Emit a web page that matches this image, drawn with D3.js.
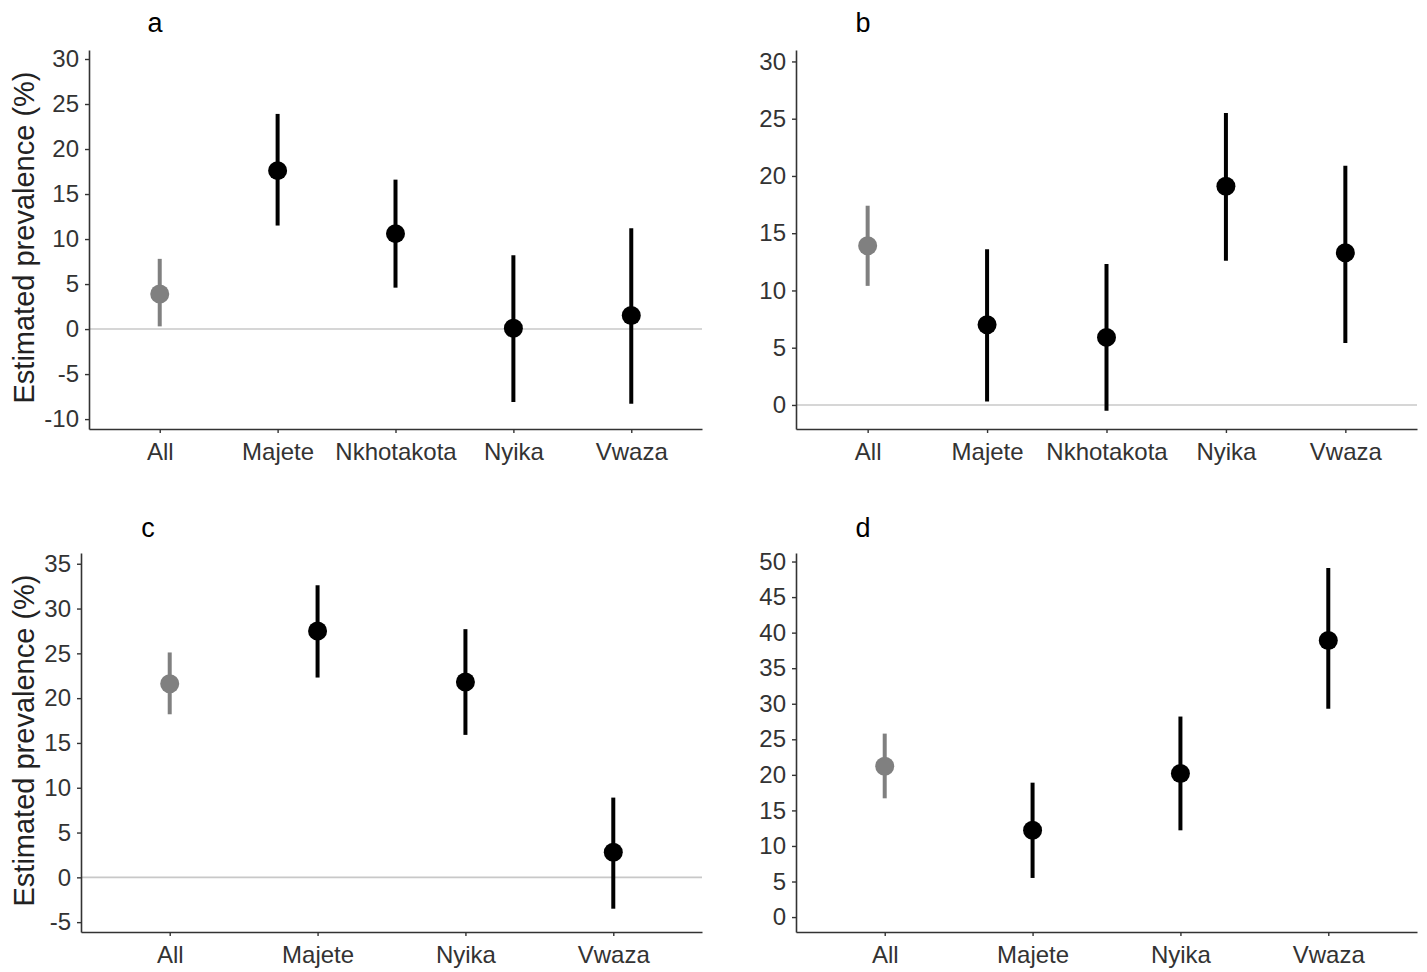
<!DOCTYPE html>
<html>
<head>
<meta charset="utf-8">
<script src="https://cdn.jsdelivr.net/npm/d3@7"></script>
<style>
  body { margin: 0; background: #fff; }
  svg { display: block; font-family: "Liberation Sans", Arial, sans-serif; }
</style>
</head>
<body>
<div id="chart"></div>
<script>
// categories
const catsAB = ["All", "Majete", "Nkhotakota", "Nyika", "Vwaza"];
const catsCD = ["All", "Majete", "Nyika", "Vwaza"];

// panel a
const estA = [3.9, 17.6, 10.6, 0.1, 1.5];
const loA  = [0.3, 11.5, 4.6, -8.1, -8.3];
const hiA  = [7.8, 23.9, 16.6, 8.2, 11.2];
const ticksA = [-10, -5, 0, 5, 10, 15, 20, 25, 30];

// panel b
const estB = [13.9, 7.0, 5.9, 19.1, 13.3];
const loB  = [10.4, 0.3, -0.5, 12.6, 5.4];
const hiB  = [17.4, 13.6, 12.3, 25.5, 20.9];
const ticksB = [0, 5, 10, 15, 20, 25, 30];

// panel c
const estC = [21.6, 27.5, 21.8, 2.8];
const loC  = [18.2, 22.3, 15.9, -3.5];
const hiC  = [25.1, 32.6, 27.7, 8.9];
const ticksC = [-5, 0, 5, 10, 15, 20, 25, 30, 35];

// panel d
const estD = [21.2, 12.2, 20.2, 38.9];
const loD  = [16.7, 5.5, 12.2, 29.3];
const hiD  = [25.8, 18.9, 28.2, 49.1];
const ticksD = [0, 5, 10, 15, 20, 25, 30, 35, 40, 45, 50];

const yTitle = "Estimated prevalence (%)";

const width = 1427, height = 972;
const svg = d3.select("#chart").append("svg")
    .attr("width", width).attr("height", height);

const panels = [
  { tag: "a", cats: catsAB, est: estA, lo: loA, hi: hiA, ticks: ticksA, domain: [-11.1, 31.0], zero: true,
    left: 89, right: 702, top: 50, bottom: 429, tagX: 155, tagY: 32, title: true },
  { tag: "b", cats: catsAB, est: estB, lo: loB, hi: hiB, ticks: ticksB, domain: [-2.1, 31.0], zero: true,
    left: 796, right: 1417, top: 50, bottom: 429, tagX: 863, tagY: 32, title: false },
  { tag: "c", cats: catsCD, est: estC, lo: loC, hi: hiC, ticks: ticksC, domain: [-6.1, 36.2], zero: true,
    left: 81, right: 702, top: 553, bottom: 932, tagX: 148, tagY: 537, title: true },
  { tag: "d", cats: catsCD, est: estD, lo: loD, hi: hiD, ticks: ticksD, domain: [-2.1, 51.2], zero: false,
    left: 796, right: 1417, top: 553, bottom: 932, tagX: 863, tagY: 537, title: false }
];

panels.forEach(drawPanel);

function drawPanel(p) {
    const g = svg.append("g");
    const x = d3.scalePoint().domain(p.cats).range([p.left, p.right]).padding(0.6);
    const y = d3.scaleLinear().domain(p.domain).range([p.bottom, p.top]);

    const rows = p.cats.map((c, i) => ({ cat: c, est: p.est[i], lo: p.lo[i], hi: p.hi[i], all: i === 0 }));

    // reference line at zero
    if (p.zero) {
        g.append("line")
            .attr("x1", p.left).attr("x2", p.right)
            .attr("y1", y(0)).attr("y2", y(0))
            .attr("stroke", "#c8c8c8").attr("stroke-width", 1.6);
    }

    // axes (plain hyphen for negatives, like the original)
    const yAxis = g.append("g")
        .attr("transform", `translate(${p.left},0)`)
        .call(d3.axisLeft(y).tickValues(p.ticks).tickFormat(d => String(d))
            .tickSize(4).tickSizeOuter(0).tickPadding(6));
    const xAxis = g.append("g")
        .attr("transform", `translate(0,${p.bottom})`)
        .call(d3.axisBottom(x).tickSize(4).tickSizeOuter(0).tickPadding(10));

    [yAxis, xAxis].forEach(a => {
        a.select(".domain").attr("stroke", "#333").attr("stroke-width", 1.6);
        a.selectAll(".tick line").attr("stroke", "#333").attr("stroke-width", 1.4);
        a.selectAll(".tick text").attr("fill", "#333").style("font-size", "24px")
            .style("font-family", "'Liberation Sans', Arial, sans-serif");
    });

    // error bars
    g.selectAll(".err").data(rows).enter().append("line")
        .attr("x1", d => x(d.cat)).attr("x2", d => x(d.cat))
        .attr("y1", d => y(d.lo)).attr("y2", d => y(d.hi))
        .attr("stroke", d => d.all ? "#808080" : "#000")
        .attr("stroke-width", 4);

    // point estimates
    g.selectAll(".pt").data(rows).enter().append("circle")
        .attr("cx", d => x(d.cat)).attr("cy", d => y(d.est))
        .attr("r", 9.5)
        .attr("fill", d => d.all ? "#808080" : "#000");

    // panel tag
    g.append("text")
        .attr("x", p.tagX).attr("y", p.tagY)
        .attr("text-anchor", "middle")
        .attr("fill", "#000")
        .style("font-size", "27px")
        .text(p.tag);

    // y title
    if (p.title) {
        g.append("text")
            .attr("transform", `translate(34,${(p.top + p.bottom) / 2 - 2}) rotate(-90)`)
            .attr("text-anchor", "middle")
            .attr("fill", "#222")
            .style("font-size", "29px")
            .text(yTitle);
    }
}
</script>
</body>
</html>
